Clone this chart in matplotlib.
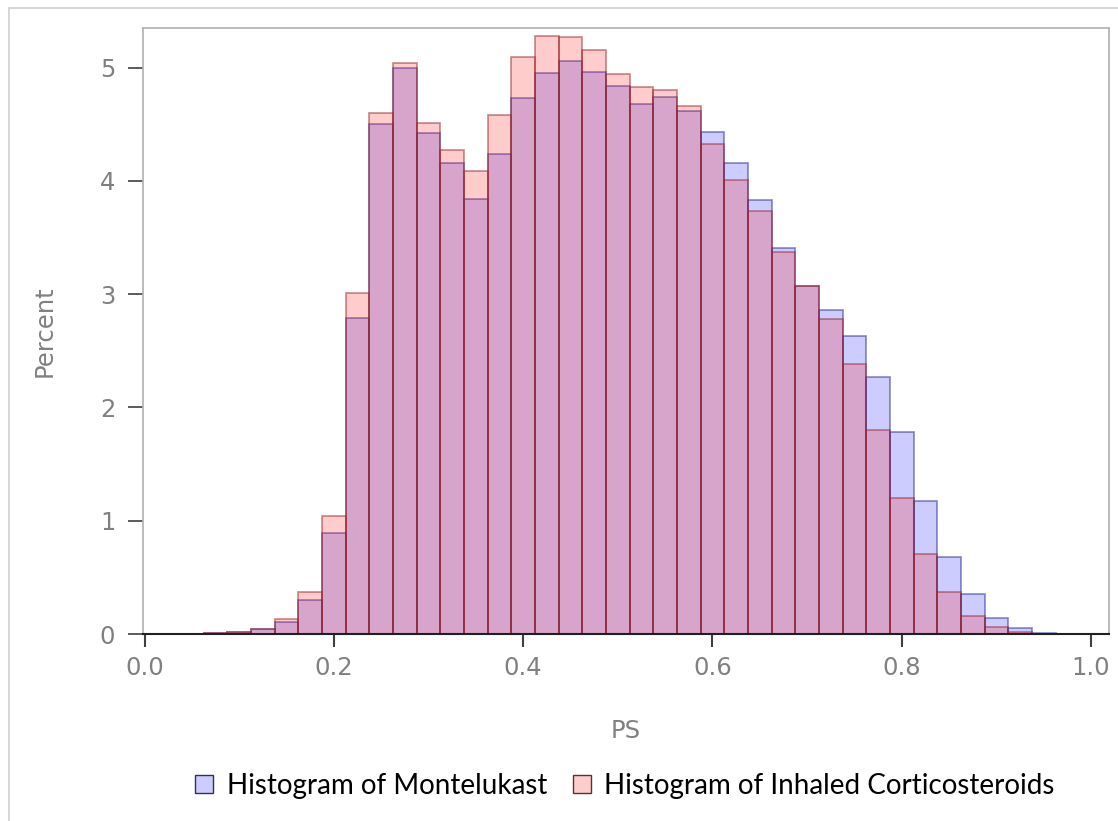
import matplotlib
matplotlib.use("Agg")
import matplotlib.pyplot as plt
from matplotlib.lines import Line2D
from matplotlib.patches import Patch
import numpy as np

# bin centres (PS) and percent values
ps_centers = [0.025, 0.05, 0.075, 0.1, 0.125, 0.15, 0.175, 0.2, 0.225, 0.25,
              0.275, 0.3, 0.325, 0.35, 0.375, 0.4, 0.425, 0.45, 0.475, 0.5,
              0.525, 0.55, 0.575, 0.6, 0.625, 0.65, 0.675, 0.7, 0.725, 0.75,
              0.775, 0.8, 0.825, 0.85, 0.875, 0.9, 0.925, 0.95, 0.975]
montelukast = [0.0, 0.003, 0.008, 0.015, 0.04, 0.11, 0.30, 0.89, 2.79, 4.50,
               5.00, 4.42, 4.16, 3.84, 4.24, 4.73, 4.95, 5.06, 4.96, 4.84,
               4.68, 4.74, 4.62, 4.43, 4.16, 3.83, 3.41, 3.07, 2.86, 2.63,
               2.27, 1.78, 1.17, 0.68, 0.35, 0.14, 0.05, 0.01, 0.003]
inhaled_cs = [0.0, 0.003, 0.008, 0.02, 0.04, 0.13, 0.37, 1.04, 3.01, 4.60,
              5.04, 4.51, 4.27, 4.09, 4.58, 5.09, 5.28, 5.27, 5.16, 4.94,
              4.83, 4.80, 4.66, 4.33, 4.01, 3.73, 3.37, 3.07, 2.78, 2.38,
              1.80, 1.20, 0.71, 0.37, 0.16, 0.06, 0.02, 0.003, 0.0]
bin_width = 0.025
x_ticks = [0.0, 0.2, 0.4, 0.6, 0.8, 1.0]
x_ticklabels = ["0.0", "0.2", "0.4", "0.6", "0.8", "1.0"]
y_ticks = [0, 1, 2, 3, 4, 5]
labels = ["Histogram of Montelukast", "Histogram of Inhaled Corticosteroids"]

W, H = 1118, 821
fig = plt.figure(figsize=(W / 100, H / 100), dpi=100)
ax = fig.add_axes([143 / W, 1 - 634 / H, (1109 - 143) / W, (634 - 28) / H])

blue_face = (23 / 255, 23 / 255, 1.0, 0.22)
blue_edge = (40 / 255, 40 / 255, 150 / 255, 0.5)
pink_face = (1.0, 23 / 255, 23 / 255, 0.22)
pink_edge = (150 / 255, 40 / 255, 40 / 255, 0.5)

ax.bar(ps_centers, montelukast, width=bin_width, align="center",
       facecolor=blue_face, edgecolor=blue_edge, linewidth=1.3)
ax.bar(ps_centers, inhaled_cs, width=bin_width, align="center",
       facecolor=pink_face, edgecolor=pink_edge, linewidth=1.3)

ax.set_xlim(-0.0016, 1.019)
ax.set_ylim(0, 5.35)

tick_color = "#808080"
fs = 17.5
ax.set_xticks(x_ticks)
ax.set_xticklabels(x_ticklabels)
ax.set_yticks(y_ticks)
ax.tick_params(axis="x", direction="out", length=9, width=1.5, color="#404040",
               labelsize=fs, labelcolor=tick_color, pad=7)
ax.tick_params(axis="y", direction="out", length=11, width=1.2, color="#404040",
               labelsize=fs, labelcolor=tick_color, pad=9)

for side in ["left", "top", "right"]:
    ax.spines[side].set_color("#b0b0b0")
    ax.spines[side].set_linewidth(1.2)
ax.spines["bottom"].set_color("#202020")
ax.spines["bottom"].set_linewidth(1.5)

ax.set_xlabel("PS", fontsize=fs, color=tick_color, labelpad=28)
ax.set_ylabel("Percent", fontsize=fs, color=tick_color, labelpad=31)

# legend
handles = [Patch(facecolor=(204 / 255, 204 / 255, 1.0), edgecolor="#30305a", linewidth=1.0),
           Patch(facecolor=(1.0, 204 / 255, 204 / 255), edgecolor="#5a3030", linewidth=1.0)]
leg = fig.legend(handles, labels, loc="center", bbox_to_anchor=(625 / W, 1 - 786 / H),
                 ncol=2, frameon=False, prop={"family": "Lato", "size": 20},
                 handlelength=0.65, handleheight=0.6, handletextpad=0.5, columnspacing=0.9)

# outer light frame
fig.add_artist(Line2D([9 / W, 9 / W], [0, 1 - 8 / H], transform=fig.transFigure,
                      color="#d0d0d0", linewidth=1.2))
fig.add_artist(Line2D([9 / W, 1], [1 - 8 / H, 1 - 8 / H], transform=fig.transFigure,
                      color="#d0d0d0", linewidth=1.2))

fig.savefig("out.png", dpi=100, facecolor="white")
